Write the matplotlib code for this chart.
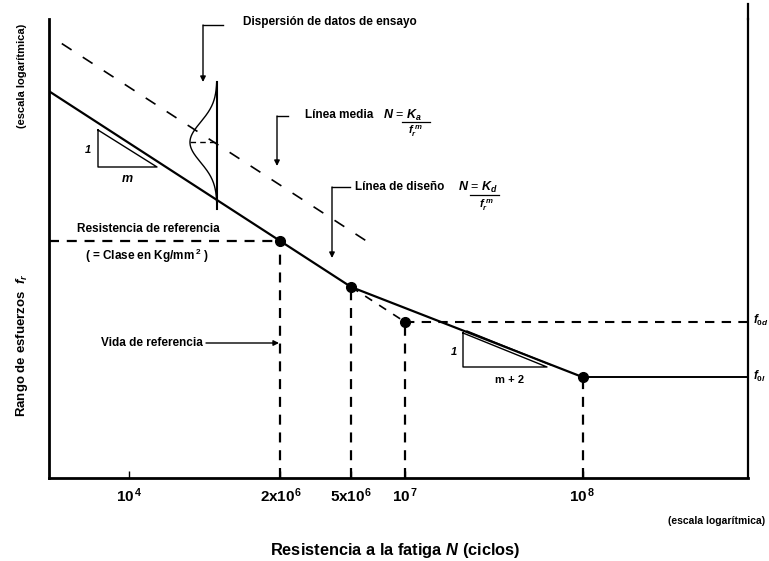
import matplotlib
matplotlib.use('Agg')
import matplotlib.pyplot as plt
import numpy as np
from matplotlib.lines import Line2D

plt.rcParams['font.family'] = ['Liberation Sans Narrow', 'Liberation Sans', 'DejaVu Sans']
plt.rcParams['mathtext.fontset'] = 'custom'
plt.rcParams['mathtext.rm'] = 'Liberation Sans:bold'
plt.rcParams['mathtext.it'] = 'Liberation Sans:italic:bold'
plt.rcParams['mathtext.bf'] = 'Liberation Sans:bold'

# ---------------- data (schematic values) ----------------
design_N = [1e5, 2e6, 5e6]          # design line, slope m
design_f = [271, 100, 73.7]
design2_N = [5e6, 1e8]              # design line, slope m+2
design2_f = [73.7, 40.5]
cutoff_N = [1e8, 8.5e8]             # cut-off limit
cutoff_f = [40.5, 40.5]
mean_N = [1.18e5, 6.2e6]            # mean line
mean_f = [372, 99.5]
ext_N = [5e6, 1e7]                  # extension of slope m
ext_f = [73.7, 58.5]
key_N = [2e6, 5e6, 1e7, 1e8]        # marked points
key_f = [100, 73.7, 58.5, 40.5]
tick_N = [10**5.45, 2e6, 5e6, 1e7, 1e8]
tick_labels = [r'10$^{\,4}$', r'2x10$^{6}$', r'5x10$^{6}$', r'10$^{\,7}$', r'10$^{\,8}$']
scatter_N = 8.8e5                   # test-data scatter line
scatter_f = [124, 288]
scatter_peak_f = 193
scatter_width_dec = 0.152
scatter_sigma_dec = 0.058
x_limits = [1e5, 10**8.93]
y_limits = [20.7, 438]

W, H = 769, 561
fig = plt.figure(figsize=(W / 100, H / 100), dpi=100)
ax = fig.add_axes([49 / W, 1 - 478 / H, (748 - 49) / W, (478 - 19) / H])
ax.set_xscale('log')
ax.set_yscale('log')
ax.set_xlim(*x_limits)
ax.set_ylim(*y_limits)


def fx(x):
    return x / W


def fy(y):
    return 1 - y / H


# spines
ax.spines['top'].set_visible(False)
ax.spines['left'].set_linewidth(2.0)
ax.spines['bottom'].set_linewidth(2.0)
ax.spines['right'].set_linewidth(1.6)
ax.add_line(Line2D([1, 1], [1, 1.033], transform=ax.transAxes, color='black',
                   lw=1.6, clip_on=False))

# ticks
ax.set_xticks(tick_N)
ax.set_xticklabels(tick_labels, fontsize=11, fontweight='bold')
ax.xaxis.set_minor_locator(matplotlib.ticker.NullLocator())
ax.yaxis.set_minor_locator(matplotlib.ticker.NullLocator())
ax.set_yticks([])
ax.tick_params(axis='x', direction='in', length=5, width=1, pad=6)

# lines
ax.plot(design_N, design_f, color='black', lw=1.6, solid_capstyle='butt')
ax.plot(design2_N, design2_f, color='black', lw=1.6)
ax.plot(cutoff_N + [x_limits[1]], cutoff_f + [cutoff_f[0]], color='black', lw=1.4)
ax.plot(mean_N, mean_f, color='black', lw=1.2, ls=(0, (7, 8)))
ax.plot(ext_N, ext_f, color='black', lw=1.2, ls=(0, (5, 5)))

dash = (0, (4.5, 3.5))
# reference resistance horizontal
ax.plot([x_limits[0], key_N[0]], [key_f[0], key_f[0]], color='black', lw=1.6, ls=dash)
# constant amplitude limit horizontal
ax.plot([key_N[2], x_limits[1]], [key_f[2], key_f[2]], color='black', lw=1.5, ls=dash)
# vertical drops
for n, f in zip(key_N, key_f):
    ax.plot([n, n], [y_limits[0], f], color='black', lw=1.6, ls=dash)

ax.plot(key_N, key_f, 'o', color='black', ms=7, zorder=5)

# scatter distribution
ax.plot([scatter_N, scatter_N], scatter_f, color='black', lw=1.5)
lf = np.linspace(np.log10(scatter_f[0]) + 0.02, np.log10(scatter_f[1]), 200)
g = np.exp(-(lf - np.log10(scatter_peak_f)) ** 2 / (2 * scatter_sigma_dec ** 2))
ax.plot(10 ** (np.log10(scatter_N) - scatter_width_dec * g), 10 ** lf, color='black', lw=1.0)
ax.plot([10 ** (np.log10(scatter_N) - scatter_width_dec), scatter_N],
        [scatter_peak_f, scatter_peak_f], color='black', lw=1.0, ls=(0, (4, 3)))


# ---------------- annotations (layout in pixel space) ----------------
def fline(xs, ys, lw=1.0):
    fig.add_artist(Line2D([fx(x) for x in xs], [fy(y) for y in ys], color='black', lw=lw))


def farrow(x0, y0, x1, y1):
    ax.annotate('', xy=(fx(x1), fy(y1)), xytext=(fx(x0), fy(y0)),
                xycoords='figure fraction', textcoords='figure fraction',
                arrowprops=dict(arrowstyle='-|>', color='black', lw=1.0,
                                mutation_scale=8, shrinkA=0, shrinkB=0))


tkw = dict(fontsize=8.5, fontweight='bold', color='black')

# Dispersión
fig.text(fx(243), fy(22), 'Dispersión de datos de ensayo', ha='left', va='center', **tkw)
fline([203, 223], [25, 25])
farrow(203, 25, 203, 82)

# Línea media
fig.text(fx(305), fy(115), 'Línea media', ha='left', va='center', **tkw)
fig.text(fx(383), fy(115), r'$N$ = $K_a$', ha='left', va='center', fontsize=9)
fline([402, 430], [122, 122], lw=0.9)
fig.text(fx(416), fy(131), r'$f_r^{\ m}$', ha='center', va='center', fontsize=8)
fline([277, 288], [116, 116])
farrow(277, 116, 277, 166)

# Línea de diseño
fig.text(fx(355), fy(187), 'Línea de diseño', ha='left', va='center', **tkw)
fig.text(fx(458), fy(187), r'$N$ = $K_d$', ha='left', va='center', fontsize=9)
fline([470, 499], [195, 195], lw=0.9)
fig.text(fx(487), fy(205), r'$f_r^{\ m}$', ha='center', va='center', fontsize=8)
fline([332, 350], [187, 187])
farrow(332, 187, 332, 258)

# Resistencia de referencia
fig.text(fx(148), fy(229), 'Resistencia de referencia', ha='center', va='center', **tkw)
fig.text(fx(147), fy(256), r'( = Clase en Kg/mm$^{\,2}$ )', ha='center', va='center', **tkw)

# Vida de referencia
fig.text(fx(203), fy(343), 'Vida de referencia', ha='right', va='center', **tkw)
farrow(206, 343, 279, 343)

# slope triangles
fline([98, 98, 157, 98], [130, 167, 167, 130], lw=1.0)
fig.text(fx(88), fy(150), '1', ha='center', va='center', fontsize=8, fontweight='bold',
         style='italic')
fig.text(fx(127), fy(179), r'$m$', ha='center', va='center', fontsize=9)

fline([463, 463, 547, 463], [333, 367, 367, 333], lw=1.0)
fline([467, 551], [331, 365], lw=1.0)
fig.text(fx(454), fy(352), '1', ha='center', va='center', fontsize=8, fontweight='bold',
         style='italic')
fig.text(fx(510), fy(380), 'm + 2', ha='center', va='center', fontsize=8, fontweight='bold')

# right-side labels
fig.text(fx(753), fy(320), r'$f_{0d}$', ha='left', va='center', fontsize=8.5)
fig.text(fx(753), fy(376), r'$f_{0l}$', ha='left', va='center', fontsize=8.5)

# axis titles
fig.text(fx(22), fy(345), r'Rango de esfuerzos  $f_r$', rotation=90, ha='center',
         va='center', fontsize=9.5, fontweight='bold')
fig.text(fx(22), fy(76), '(escala logarítmica)', rotation=90, ha='center', va='center',
         fontsize=8, fontweight='bold')
fig.text(fx(765), fy(521), '(escala logarítmica)', ha='right', va='center', fontsize=7.5,
         fontweight='bold')
fig.text(fx(395), fy(551), r'Resistencia a la fatiga $N$ (ciclos)', ha='center',
         va='center', fontsize=11.8, fontweight='bold')

fig.savefig('out.png', dpi=100)
